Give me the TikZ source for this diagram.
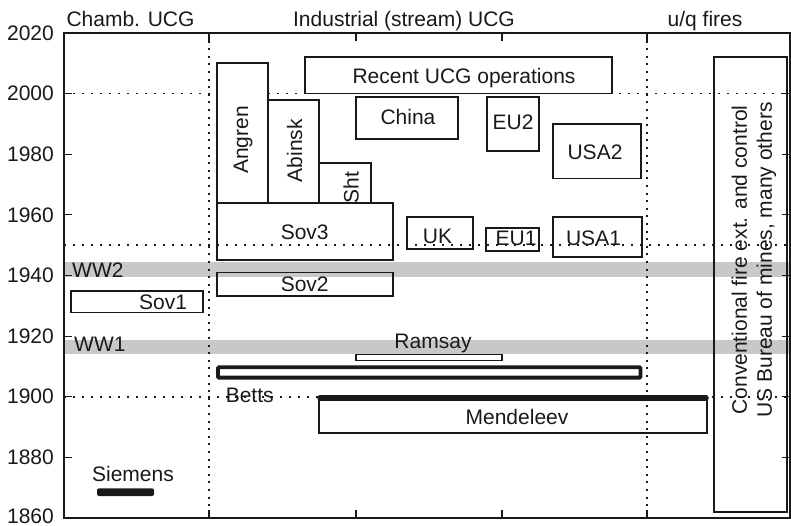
\documentclass[tikz,border=0pt]{standalone}
\usepackage{fontspec}
\setmainfont{Liberation Sans}
\definecolor{bandgray}{RGB}{200,200,200}
\definecolor{ink}{RGB}{25,25,25}
\begin{document}
\begin{tikzpicture}[x=1pt,y=-1pt,
  lbl/.style={inner sep=0pt, text=ink, font=\fontsize{21}{25}\selectfont},
  bx/.style={draw=ink, line width=1.8pt},
  vdot/.style={draw=ink, line width=2.4pt, dash pattern=on 2pt off 5.6pt},
  hdot/.style={draw=ink, line width=1.8pt, dash pattern=on 2pt off 7pt},
  band/.style={fill=bandgray, draw=none},
  tick/.style={draw=ink, line width=1.2pt}
]
\useasboundingbox (0,0) rectangle (791,526);

% war bands
\fill[band] (64,261.8) rectangle (790,277);
\fill[band] (64,340) rectangle (790,354);

% dotted grid lines
\draw[hdot] (64,93.6) -- (217,93.6);
\draw[hdot] (268,93.6) -- (790,93.6);
\draw[hdot] (64,245.2) -- (790,245.2);
\draw[hdot] (64,396.7) -- (790,396.7);
\draw[vdot] (209,33) -- (209,518);
\draw[vdot] (647,33) -- (647,518);

% boxes
\draw[bx] (217,63.3) rectangle (268,202.7);
\draw[bx] (268,99.7) rectangle (319,202.7);
\draw[bx] (319,163.3) rectangle (371,202.7);
\draw[bx] (217,202.7) rectangle (393,260.3);
\draw[bx] (305,57.2) rectangle (612,93.6);
\draw[bx] (356,96.7) rectangle (458,139.1);
\draw[bx] (487,96.7) rectangle (539,151.2);
\draw[bx] (553,123.9) rectangle (641,178.5);
\draw[bx] (407,217.3) rectangle (473,249);
\draw[bx] (486,228) rectangle (539,251.2);
\draw[bx] (553,217.3) rectangle (642,257.3);
\draw[bx] (217,272.4) rectangle (393,295.7);
\draw[bx] (71,290.6) rectangle (203,312.5);
\draw[draw=ink, line width=1.1pt] (356,354.5) rectangle (502,360.6);
\draw[draw=ink, line width=3.8pt, rounded corners=1pt] (218,367.3) rectangle (640.5,377.6);
\draw[bx] (319,397) rectangle (707,433.1);
\draw[draw=ink, line width=5.5pt, line cap=round] (320,397.8) -- (706,397.8);
\fill[ink, rounded corners=2pt] (97,488.3) rectangle (154,496);
\draw[bx] (714,57.2) rectangle (787,511.9);

% axes frame and ticks
\draw[draw=ink, line width=1.8pt] (64,33) rectangle (790,518);
\foreach \yy in {93.6,154.2,214.9,275.5,336.1,396.7,457.3} {
  \draw[tick] (64,\yy) -- (72,\yy);
  \draw[tick] (790,\yy) -- (782,\yy);
}
\foreach \xx in {209,356,502,647} {
  \draw[tick] (\xx,33) -- (\xx,41);
  \draw[tick] (\xx,518) -- (\xx,510);
}

% axis labels
\node[lbl, anchor=east] (y2020) at (54,33) {2020};
\node[lbl, anchor=east] (y2000) at (54,93.6) {2000};
\node[lbl, anchor=east] (y1980) at (54,154.2) {1980};
\node[lbl, anchor=east] (y1960) at (54,214.9) {1960};
\node[lbl, anchor=east] (y1940) at (54,275.5) {1940};
\node[lbl, anchor=east] (y1920) at (54,336.1) {1920};
\node[lbl, anchor=east] (y1900) at (54,396.7) {1900};
\node[lbl, anchor=east] (y1880) at (54,457.3) {1880};
\node[lbl, anchor=east] (y1860) at (54,516.5) {1860};

\node[lbl, anchor=base] (hchamb) at (130.5,26.7) {Chamb. UCG};
\node[lbl, anchor=base] (hind) at (404,26.7) {Industrial (stream) UCG};
\node[lbl, anchor=base] (hfire) at (705,26.7) {u/q fires};

% box labels
\node[lbl, anchor=base, rotate=90] (angren) at (248,140) {Angren};
\node[lbl, anchor=base, rotate=90] (abinsk) at (302,150.8) {Abinsk};
\node[lbl, anchor=base, rotate=90] (sht) at (358.5,187.5) {Sht};
\node[lbl, anchor=base] (sov3) at (304.7,239.3) {Sov3};
\node[lbl, anchor=base] (recent) at (464,83.3) {Recent UCG operations};
\node[lbl, anchor=base] (china) at (408,125) {China};
\node[lbl, anchor=base] (eu2) at (513,130) {EU2};
\node[lbl, anchor=base] (usa2) at (595,159.3) {USA2};
\node[lbl, anchor=base] (uk) at (437.5,243.3) {UK};
\node[lbl, anchor=base] (eu1) at (516,246) {EU1};
\node[lbl, anchor=base] (usa1) at (593.5,246) {USA1};
\node[lbl, anchor=base] (sov2) at (304.7,291.7) {Sov2};
\node[lbl, anchor=base] (sov1) at (163,309) {Sov1};
\node[lbl, anchor=base west] (ww2) at (72,277.3) {WW2};
\node[lbl, anchor=base west] (ww1) at (74,351.7) {WW1};
\node[lbl, anchor=base] (ramsay) at (433,348.3) {Ramsay};
\node[lbl, anchor=base] (betts) at (249.7,402.7) {Betts};
\node[lbl, anchor=base] (mend) at (517,424) {Mendeleev};
\node[lbl, anchor=base] (siemens) at (133,481.7) {Siemens};
\node[lbl, rotate=90, align=center] (conv) at (754,260) {Conventional fire ext. and control\\US Bureau of mines, many others};
\end{tikzpicture}
\end{document}
